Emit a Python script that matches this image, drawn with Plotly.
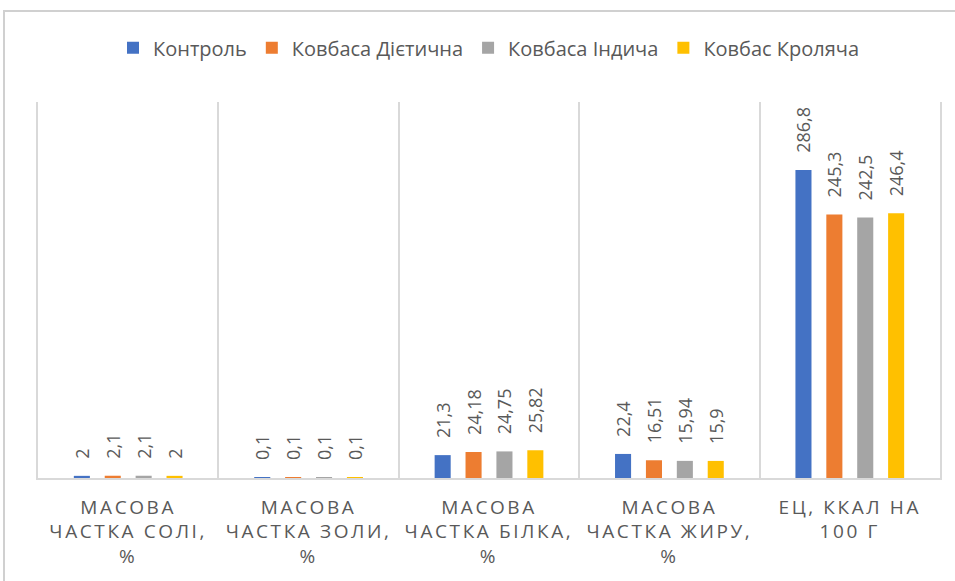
import plotly.graph_objects as go

categories = ["МАСОВА<br>ЧАСТКА СОЛІ,<br>%", "МАСОВА<br>ЧАСТКА ЗОЛИ,<br>%",
              "МАСОВА<br>ЧАСТКА БІЛКА,<br>%", "МАСОВА<br>ЧАСТКА ЖИРУ,<br>%",
              "ЕЦ, ККАЛ НА<br>100 Г"]
series_names = ["Контроль", "Ковбаса Дієтична", "Ковбаса Індича", "Ковбас Кроляча"]
control = [2, 0.1, 21.3, 22.4, 286.8]
dietychna = [2.1, 0.1, 24.18, 16.51, 245.3]
indycha = [2.1, 0.1, 24.75, 15.94, 242.5]
krolyacha = [2, 0.1, 25.82, 15.9, 246.4]
colors = ["#4472C4", "#ED7D31", "#A5A5A5", "#FFC000"]

GREY = "#595959"
LINE = "#D9D9D9"
FRAME = "#D0D0D0"

def fmt(v):
    s = ("%g" % v).replace(".", ",")
    return "\u00a0\u00a0\u00a0" + s

fig = go.Figure()
for name, vals, col in zip(series_names, [control, dietychna, indycha, krolyacha], colors):
    fig.add_trace(go.Bar(
        name=name, x=categories, y=vals, marker_color=col, marker_line_width=0,
        text=[fmt(v) for v in vals], textposition="outside", textangle=-90,
        constraintext="none",
        textfont=dict(family="Open Sans", size=18, color=GREY),
        cliponaxis=False, hoverinfo="skip",
    ))

L, T, R, B = 38, 102, 940, 478
px = lambda p: (p - L) / (R - L)
py = lambda p: (B - p) / (B - T)

fig.update_layout(
    width=955, height=581,
    paper_bgcolor="white", plot_bgcolor="white",
    margin=dict(l=L, r=955 - R, t=T, b=581 - B),
    barmode="group", bargap=0.315, bargroupgap=0.48,
    font=dict(family="Open Sans", color=GREY),
    showlegend=True,
    legend=dict(orientation="h", x=0.5, xanchor="center", y=1.144, yanchor="middle",
                font=dict(family="Open Sans", size=20, color=GREY),
                itemwidth=30, tracegroupgap=0),
    xaxis=dict(type="category", tickson="boundaries", showgrid=True, gridcolor=LINE,
               gridwidth=1.5, showline=True, linecolor=LINE, linewidth=1.5,
               ticks="", tickfont=dict(family="Open Sans", size=19, color=GREY),
               ticklabelstandoff=11),
    yaxis=dict(range=[0, 350], showgrid=False, zeroline=False, showticklabels=False,
               showline=True, mirror=True, linecolor=LINE, linewidth=1.5, ticks=""),
    shapes=[dict(type="rect", xref="paper", yref="paper",
                 x0=px(4), x1=px(958), y0=py(585), y1=py(11),
                 line=dict(color=FRAME, width=2), fillcolor="rgba(0,0,0,0)", layer="above")],
)

post = ("document.body.style.margin='0';"
        "document.querySelectorAll('.xtick text').forEach(function(t){"
        "t.style.letterSpacing='2.6px';});")
fig.write_html("out.html", post_script=post, config={"displayModeBar": False})
